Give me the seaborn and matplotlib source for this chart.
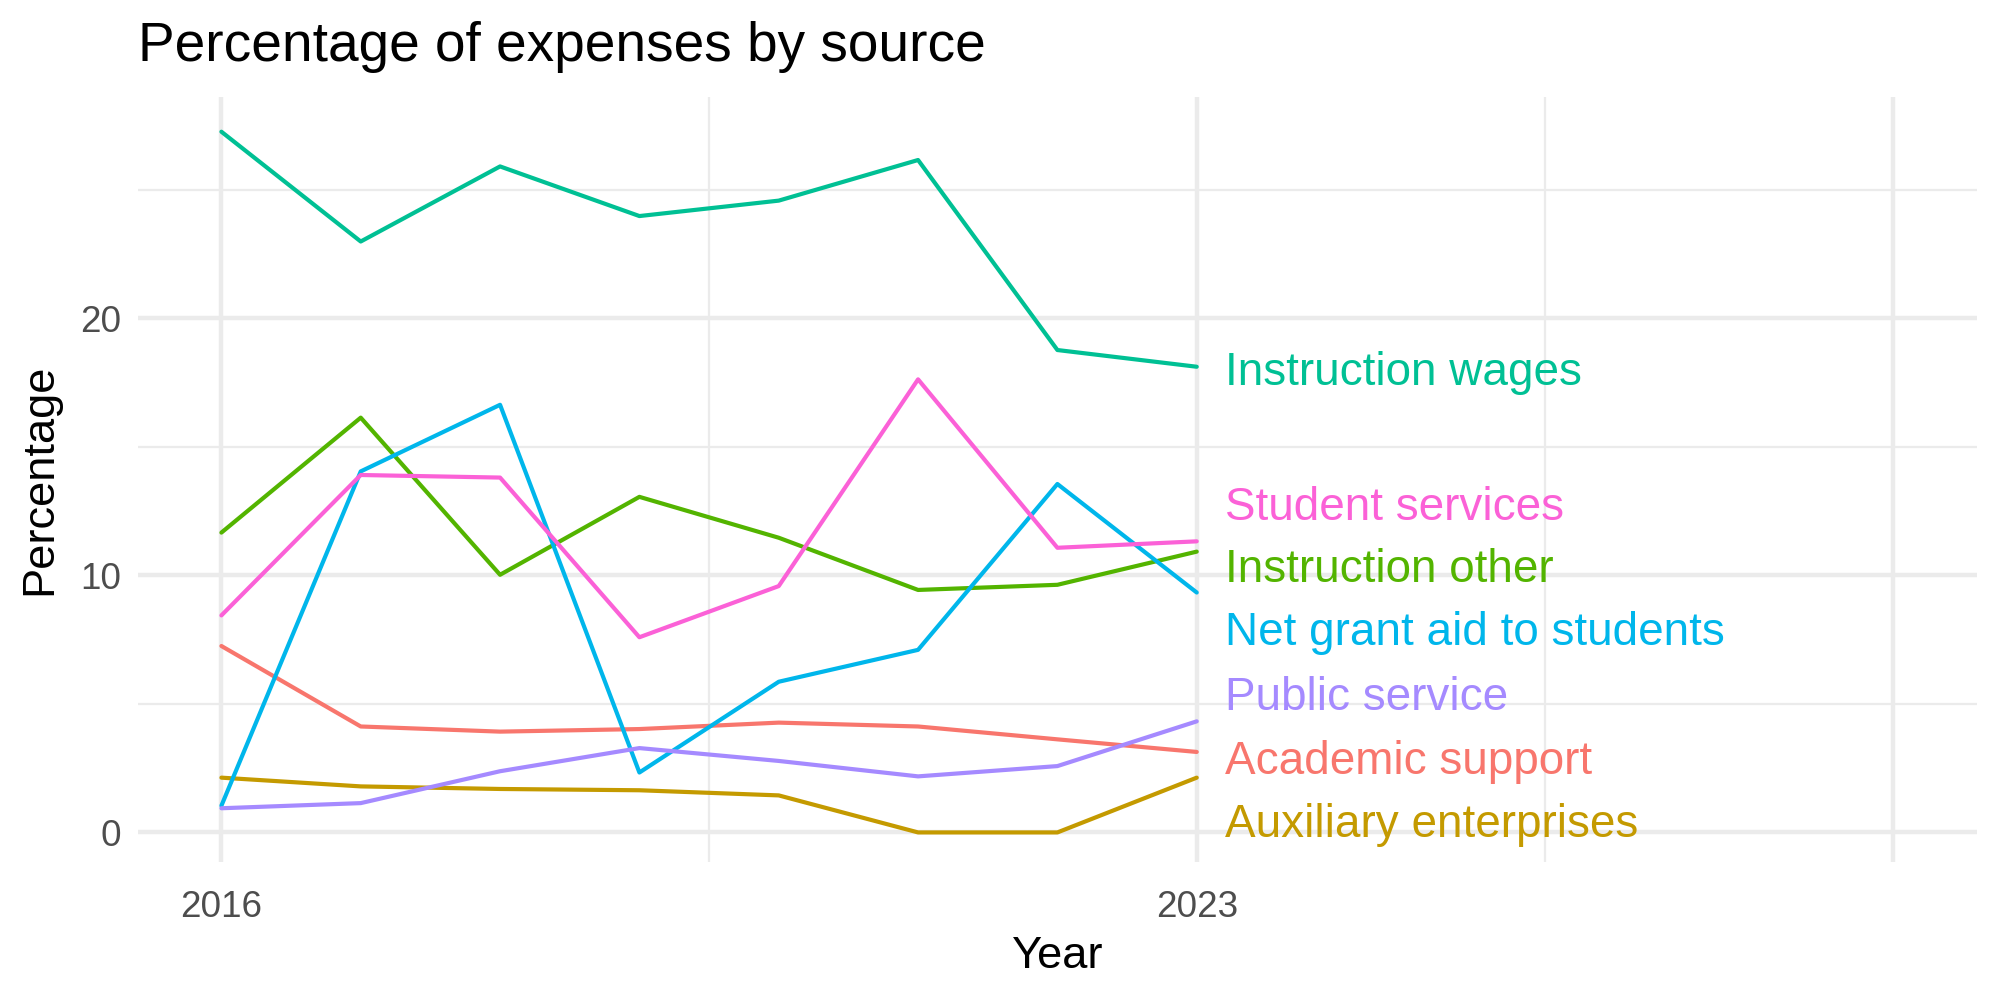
import pandas as pd
import matplotlib.pyplot as plt
import seaborn as sns

# Values
years = [2016, 2017, 2018, 2019, 2020, 2021, 2022, 2023]
academic_support = [7.25, 4.12, 3.92, 4.02, 4.27, 4.12, 3.62, 3.13]
auxiliary_enterprises = [2.13, 1.79, 1.69, 1.64, 1.44, 0.0, 0.0, 2.13]
instruction_other = [11.66, 16.13, 10.02, 13.05, 11.46, 9.43, 9.63, 10.92]
instruction_wages = [27.25, 22.98, 25.9, 23.97, 24.57, 26.15, 18.76, 18.11]
net_grant_aid = [1.04, 14.04, 16.63, 2.33, 5.86, 7.1, 13.55, 9.33]
public_service = [0.94, 1.14, 2.38, 3.28, 2.78, 2.18, 2.58, 4.32]
student_services = [8.44, 13.9, 13.8, 7.59, 9.58, 17.62, 11.07, 11.32]

sources = ['Academic support', 'Auxiliary enterprises', 'Instruction other',
           'Instruction wages', 'Net grant aid to students', 'Public service',
           'Student services']
series = [academic_support, auxiliary_enterprises, instruction_other,
          instruction_wages, net_grant_aid, public_service, student_services]
colors = ['#F8766D', '#C49A00', '#53B400', '#00C094', '#00B6EB', '#A58AFF', '#FB61D7']

# label positions after repelling (layout, not data)
label_y = {'Instruction wages': 17.88, 'Student services': 12.62,
           'Instruction other': 10.19, 'Net grant aid to students': 7.76,
           'Public service': 5.23, 'Academic support': 2.75,
           'Auxiliary enterprises': 0.27}

rows = []
for name, vals in zip(sources, series):
    for yr, v in zip(years, vals):
        rows.append({'Year': yr, 'Percentage': v, 'Source': name})
df = pd.DataFrame(rows)
palette = dict(zip(sources, colors))

sns.set_theme(style='white')
plt.rcParams['font.family'] = ['Liberation Sans', 'DejaVu Sans']

fig, ax = plt.subplots(figsize=(10, 5), dpi=200)
fig.subplots_adjust(left=0.0689, right=0.9885, top=0.903, bottom=0.138)

sns.lineplot(data=df, x='Year', y='Percentage', hue='Source', palette=palette,
             linewidth=1.5, legend=False, ax=ax, zorder=3)

for name in sources:
    ax.text(2023.2, label_y[name], name, color=palette[name], fontsize=16.5,
            ha='left', va='center', zorder=4)

ax.set_xlim(2015.4, 2028.6)
ax.set_ylim(-1.15, 28.6)
ax.set_xticks([2016, 2023, 2028])
ax.set_xticklabels(['2016', '2023', ''])
ax.set_xticks([2019.5, 2025.5], minor=True)
ax.set_yticks([0, 10, 20])
ax.set_yticks([5, 15, 25], minor=True)
ax.grid(which='major', color='#EBEBEB', linewidth=1.6)
ax.grid(which='minor', color='#EBEBEB', linewidth=0.8)
ax.tick_params(which='both', length=0, labelsize=13.3, labelcolor='#4D4D4D')
ax.tick_params(axis='x', pad=10)
ax.tick_params(axis='y', pad=6)
for s in ax.spines.values():
    s.set_visible(False)

ax.set_title('Percentage of expenses by source', fontsize=19.8, loc='left',
             pad=13, color='black')
ax.set_xlabel('Year', fontsize=16.3, labelpad=4, color='black')
ax.set_ylabel('Percentage', fontsize=16.3, labelpad=7, color='black')

plt.savefig('out.png', dpi=200)
